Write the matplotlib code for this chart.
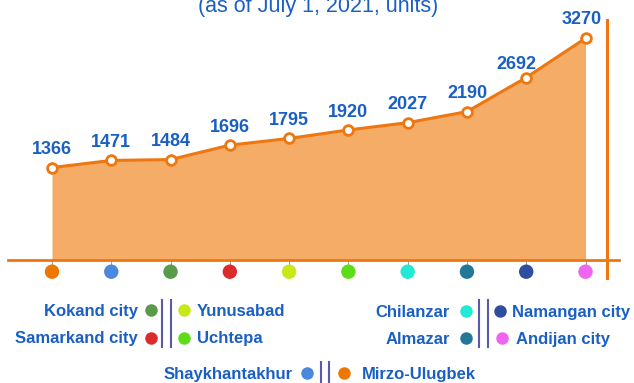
import matplotlib
matplotlib.use("Agg")
import matplotlib.pyplot as plt
import matplotlib.transforms as mtransforms
from matplotlib.lines import Line2D

plt.rcParams['font.family'] = ['Liberation Sans', 'DejaVu Sans']

# districts / cities and number of units
districts = ['Mirzo-Ulugbek', 'Shaykhantakhur', 'Kokand city', 'Samarkand city',
             'Yunusabad', 'Uchtepa', 'Chilanzar', 'Almazar', 'Namangan city',
             'Andijan city']
units = [1366, 1471, 1484, 1696, 1795, 1920, 2027, 2190, 2692, 3270]
dot_colors = ['#EE7700', '#4A87DD', '#5A9A4A', '#DD2A2A', '#C8E81A',
              '#5EDC18', '#22E8D6', '#237898', '#2E4F9F', '#EE66EE']
title = '(as of July 1, 2021, units)'

W, H = 634, 383
blue = '#1A5FC4'
orange = '#EE7710'
fill = '#F4AC66'

fig = plt.figure(figsize=(W / 100, H / 100), dpi=100)
ax = fig.add_axes([0, 0, 1, 1])
ax.set_xlim(-0.877, 9.818)
ax.set_ylim(-1807, 3834)
ax.axis('off')

x = list(range(len(units)))

ax.fill_between(x, units, 0, color=fill, lw=0, zorder=1)
ax.plot(x, units, color=orange, lw=2.2, marker='o', ms=7, mfc='white',
        mec=orange, mew=2, zorder=4)

# baseline and right-hand bar
ax.axhline(0, xmin=8 / W, xmax=619 / W, color=orange, lw=2, zorder=3)
ax.axvline((607 - 52) / 59.28, ymin=1 - 278 / H, ymax=1 - 20 / H,
           color=orange, lw=2.2, zorder=3)

# coloured category dots under the baseline
below = mtransforms.offset_copy(ax.transData, fig=fig, y=-8.2, units='points')
ax.vlines(x, -90, 0, color='#a0a080', lw=0.7, zorder=2)
ax.scatter(x, [0] * len(x), s=108, c=dot_colors, transform=below, zorder=5,
           linewidths=0)

# value labels
label_shift = [(0, 9.5)] * len(units)
label_shift[8] = (-7, 6)
label_shift[9] = (-3, 10)
for i, v in enumerate(units):
    ax.annotate(str(v), (i, v), xytext=label_shift[i], textcoords='offset points',
                ha='center', va='baseline', fontsize=13, fontweight='bold',
                color=blue, zorder=6)

fig.text(318 / W, 1 - 12 / H, title, ha='center', va='baseline',
         fontsize=15.5, color=blue)


# legend: pairs of entries separated by a double bar
def fx(px):
    return px / W


def fy(py):
    return 1 - py / H


def double_bar(bar_x, y0, y1):
    for bx in (bar_x, bar_x + 8.5):
        fig.add_artist(Line2D([fx(bx), fx(bx)], [fy(y0), fy(y1)],
                              color='#5A5AA8', lw=1.5))


def legend_pair(i_left, i_right, bar_x, y, d_left, d_right, t_left, t_right):
    for idx, side in ((i_left, -1), (i_right, 1)):
        if side < 0:
            cx = bar_x - d_left
            tx = cx - t_left
            ha = 'right'
        else:
            cx = bar_x + 8.5 + d_right
            tx = cx + t_right
            ha = 'left'
        fig.add_artist(Line2D([fx(cx)], [fy(y)], marker='o', ms=9, lw=0,
                              color=dot_colors[idx], mew=0))
        fig.text(fx(tx), fy(y + 6), districts[idx], ha=ha, va='baseline',
                 fontsize=12, fontweight='bold', color=blue)


double_bar(162.3, 300, 347)
legend_pair(2, 4, 162.3, 310, 11.3, 13.3, 13, 13)
legend_pair(3, 5, 162.3, 337.5, 11.3, 13.3, 13, 13)

double_bar(479, 300, 347)
legend_pair(6, 8, 479, 311, 13.3, 12.5, 15.5, 12.5)
legend_pair(7, 9, 479, 338, 13.3, 14, 15.5, 14.5)

double_bar(320.5, 362, 383)
legend_pair(1, 0, 320.5, 373, 13.5, 15, 14, 18)

fig.savefig('out.png', dpi=100)
